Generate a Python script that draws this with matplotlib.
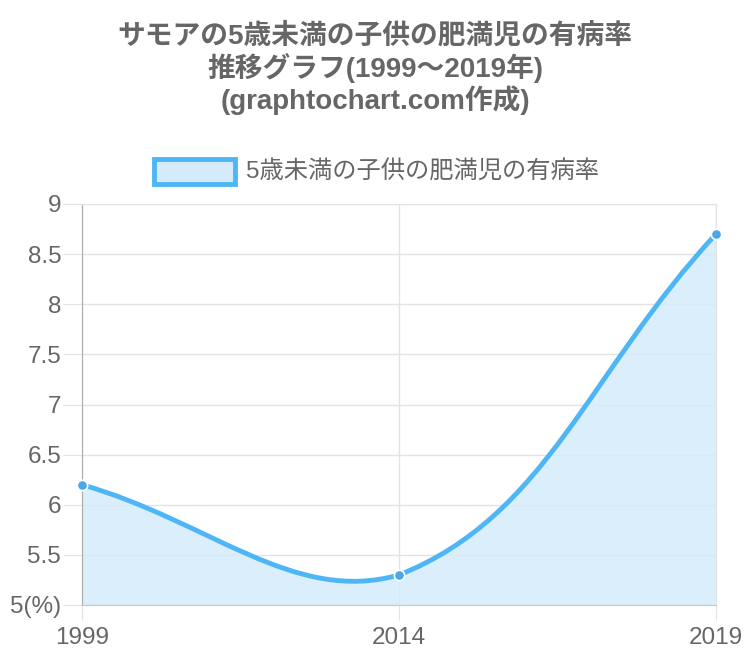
import numpy as np
import matplotlib
matplotlib.use("Agg")
import matplotlib.pyplot as plt
from matplotlib.path import Path
from matplotlib.patches import PathPatch, Rectangle

plt.rcParams['font.family'] = ['Liberation Sans', 'Noto Sans CJK JP', 'DejaVu Sans']

# データ
years = ['1999', '2014', '2019']
rates = [6.2, 5.3, 8.7]
series_name = '5歳未満の子供の肥満児の有病率'
title = 'サモアの5歳未満の子供の肥満児の有病率\n推移グラフ(1999〜2019年)\n(graphtochart.com作成)'
y_ticks = [5, 5.5, 6, 6.5, 7, 7.5, 8, 8.5, 9]
y_labels = ['5(%)', '5.5', '6', '6.5', '7', '7.5', '8', '8.5', '9']

LINE = '#4fb6f5'
FILL = '#d5ebfb'
GRID = '#e3e3e3'
TXT = '#666666'

W, H = 750, 666
fig = plt.figure(figsize=(W / 100, H / 100), dpi=100)
ax = fig.add_axes([82 / W, 1 - 605 / H, (716 - 82) / W, (605 - 204) / H])

x = np.arange(len(years))
ax.set_xlim(0, len(years) - 1)
ax.set_ylim(5, 9)
ax.set_xticks(x)
ax.set_xticklabels(years)
ax.set_yticks(y_ticks)
ax.set_yticklabels(y_labels)
ax.grid(True, color=GRID, linewidth=1)
ax.set_axisbelow(True)
ax.tick_params(axis='y', length=14, color=GRID, labelcolor=TXT, labelsize=17.5, pad=1)
ax.tick_params(axis='x', length=11, color=GRID, labelcolor=TXT, labelsize=17.5, pad=5)
for s in ['top', 'right']:
    ax.spines[s].set_color(GRID)
ax.spines['left'].set_color('#aaaaaa')
ax.spines['bottom'].set_color('#c8c8c8')

# Chart.js風のスプライン(tension 0.4)をピクセル空間で計算
fig.canvas.draw()
pts = ax.transData.transform(np.column_stack([x, rates]))
bb = ax.get_window_extent()
t = 0.4
prev_cp, next_cp = [], []
n = len(pts)
for i in range(n):
    p0 = pts[max(i - 1, 0)]
    p1 = pts[i]
    p2 = pts[min(i + 1, n - 1)]
    d01 = np.hypot(*(p1 - p0))
    d12 = np.hypot(*(p2 - p1))
    s01 = d01 / (d01 + d12)
    s12 = d12 / (d01 + d12)
    pc = p1 - t * s01 * (p2 - p0)
    nc = p1 + t * s12 * (p2 - p0)
    pc = np.array([np.clip(pc[0], bb.x0, bb.x1), np.clip(pc[1], bb.y0, bb.y1)])
    nc = np.array([np.clip(nc[0], bb.x0, bb.x1), np.clip(nc[1], bb.y0, bb.y1)])
    prev_cp.append(pc)
    next_cp.append(nc)

verts = [pts[0]]
codes = [Path.MOVETO]
for i in range(n - 1):
    verts += [next_cp[i], prev_cp[i + 1], pts[i + 1]]
    codes += [Path.CURVE4] * 3
inv = ax.transData.inverted()
verts_d = inv.transform(np.array(verts))

fill_verts = np.vstack([verts_d, [[x[-1], 5], [x[0], 5], verts_d[0]]])
fill_codes = codes + [Path.LINETO, Path.LINETO, Path.CLOSEPOLY]
ax.add_patch(PathPatch(Path(fill_verts, fill_codes), facecolor=FILL, edgecolor='none', alpha=0.85, zorder=1))
ax.add_patch(PathPatch(Path(verts_d, codes), facecolor='none', edgecolor=LINE, linewidth=3.5,
                       capstyle='round', joinstyle='round', zorder=3))
ax.scatter(x, rates, s=55, color='#4aa8e6', edgecolor='white', linewidth=1.2, zorder=4, clip_on=False)

# タイトル
fig.text(0.5, 1 - 23 / H, title, ha='center', va='top', fontsize=20, fontweight='bold',
         color=TXT, linespacing=1.13)

# 凡例
fig.patches.append(Rectangle((154 / W, 1 - 184 / H), 81 / W, 25 / H, transform=fig.transFigure,
                             facecolor=FILL, edgecolor=LINE, linewidth=3.5, figure=fig))
fig.text(246 / W, 1 - 171 / H, series_name, ha='left', va='center', fontsize=17.5, color=TXT)

fig.savefig('out.png', dpi=100)
